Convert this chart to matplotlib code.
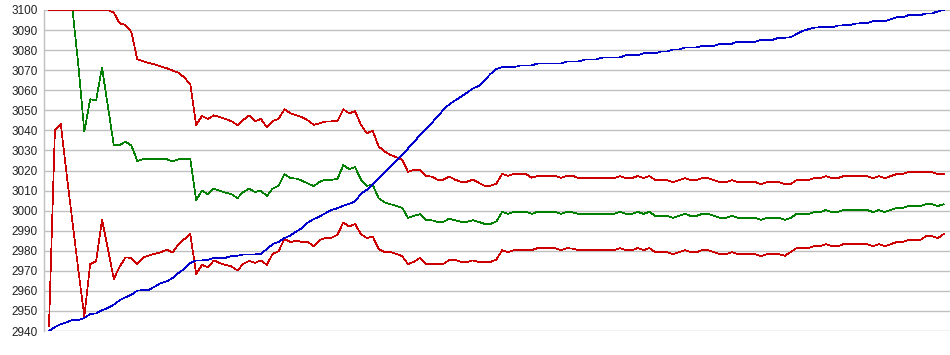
import numpy as np
import matplotlib
matplotlib.use("Agg")
import matplotlib.pyplot as plt

# values, one point every ~5.9 px
blue = [
    2940.0, 2942.0, 2943.4, 2944.4, 2945.5, 2945.5, 2946.5, 2948.5, 2948.8, 2950.3,
    2951.5, 2953.1, 2955.3, 2956.8, 2958.1, 2960.1, 2960.4, 2960.6, 2962.2, 2963.9,
    2964.7, 2966.4, 2968.9, 2971.0, 2973.9, 2975.2, 2975.2, 2975.4, 2976.4, 2976.4,
    2976.5, 2977.4, 2977.5, 2978.2, 2978.2, 2978.2, 2978.5, 2980.8, 2983.3, 2984.4,
    2986.3, 2987.6, 2989.6, 2991.3, 2994.1, 2995.8, 2997.1, 2998.8, 3000.3, 3001.2,
    3002.4, 3003.4, 3004.6, 3008.4, 3010.4, 3013.2, 3016.2, 3019.0, 3022.0, 3025.0,
    3027.8, 3031.0, 3034.0, 3037.8, 3040.6, 3043.6, 3046.9, 3050.2, 3053.0, 3054.9,
    3056.8, 3058.8, 3060.8, 3062.2, 3065.1, 3068.1, 3070.6, 3071.5, 3071.5, 3071.5,
    3072.3, 3072.4, 3072.4, 3073.3, 3073.4, 3073.4, 3073.4, 3073.4, 3074.3, 3074.4,
    3074.4, 3075.3, 3075.4, 3075.4, 3076.3, 3076.4, 3076.4, 3076.4, 3077.4, 3077.4,
    3077.4, 3078.4, 3078.4, 3078.4, 3079.3, 3079.3, 3080.3, 3080.3, 3081.3, 3081.3,
    3081.3, 3082.2, 3082.2, 3082.2, 3083.2, 3083.2, 3083.2, 3084.2, 3084.2, 3084.2,
    3084.2, 3085.2, 3085.2, 3085.2, 3086.2, 3086.2, 3086.4, 3088.0, 3089.5, 3090.4,
    3091.2, 3091.4, 3091.4, 3091.4, 3092.2, 3092.4, 3092.4, 3093.2, 3093.4, 3093.4,
    3094.4, 3094.4, 3094.4, 3095.4, 3096.4, 3096.4, 3097.4, 3097.4, 3097.4, 3098.3,
    3098.3, 3099.3, 3100.0,
]

green = [
    3100.0, 3100.0, 3100.0, 3100.0, 3100.0, 3072.0, 3039.4, 3055.5, 3054.9, 3071.3,
    3052.2, 3032.6, 3032.6, 3034.4, 3032.4, 3024.8, 3025.6, 3025.6, 3025.6, 3025.6,
    3025.6, 3024.6, 3025.6, 3025.6, 3025.6, 3005.4, 3009.9, 3008.2, 3011.0, 3009.9,
    3009.0, 3008.2, 3006.2, 3009.2, 3011.0, 3009.2, 3010.0, 3007.2, 3011.0, 3012.4,
    3018.2, 3016.2, 3016.0, 3014.9, 3013.5, 3012.2, 3014.4, 3015.4, 3015.4, 3015.8,
    3022.7, 3020.7, 3021.7, 3015.4, 3012.4, 3012.9, 3006.2, 3004.2, 3003.2, 3002.4,
    3001.4, 2996.4, 2997.4, 2998.2, 2995.4, 2995.2, 2994.4, 2994.4, 2996.0, 2995.2,
    2994.4, 2994.4, 2995.2, 2994.4, 2993.4, 2993.4, 2994.6, 2999.4, 2998.4, 2999.4,
    2999.4, 2999.4, 2998.4, 2999.4, 2999.4, 2999.4, 2999.4, 2998.4, 2999.4, 2999.1,
    2998.4, 2998.4, 2998.4, 2998.4, 2998.4, 2998.4, 2998.4, 2999.4, 2998.4, 2998.4,
    2999.4, 2998.4, 2999.4, 2997.4, 2997.4, 2997.4, 2996.4, 2997.4, 2998.4, 2997.4,
    2997.4, 2998.4, 2998.4, 2997.4, 2996.4, 2996.4, 2997.4, 2996.4, 2996.4, 2996.4,
    2996.4, 2995.4, 2996.4, 2996.4, 2996.4, 2995.4, 2996.4, 2998.3, 2998.3, 2998.3,
    2999.3, 2999.3, 3000.3, 2999.3, 2999.3, 3000.3, 3000.3, 3000.3, 3000.3, 3000.3,
    2999.3, 3000.3, 2999.3, 3000.4, 3001.3, 3001.3, 3002.3, 3002.3, 3002.3, 3003.2,
    3003.2, 3002.3, 3003.2,
]

red_upper = [
    3100.0, 3100.0, 3100.0, 3100.0, 3100.0, 3100.0, 3100.0, 3100.0, 3100.0, 3100.0,
    3100.0, 3098.7, 3093.4, 3092.5, 3089.0, 3075.4, 3074.4, 3073.6, 3072.8, 3071.8,
    3071.0, 3069.8, 3068.8, 3066.3, 3063.0, 3042.7, 3047.2, 3045.7, 3047.5, 3046.6,
    3045.6, 3044.6, 3042.6, 3045.2, 3047.4, 3044.6, 3045.7, 3041.6, 3044.7, 3045.7,
    3050.5, 3048.5, 3047.5, 3046.6, 3044.9, 3042.7, 3043.6, 3044.4, 3044.5, 3044.6,
    3050.5, 3048.5, 3049.5, 3042.7, 3038.6, 3039.8, 3032.0, 3029.5, 3027.8, 3026.6,
    3025.3, 3019.3, 3020.3, 3020.3, 3017.3, 3017.0, 3015.4, 3015.4, 3017.0, 3015.4,
    3014.4, 3014.4, 3015.4, 3013.9, 3012.4, 3012.4, 3013.4, 3018.3, 3017.3, 3018.3,
    3018.3, 3018.3, 3016.4, 3017.3, 3017.3, 3017.3, 3017.3, 3016.4, 3017.3, 3017.3,
    3016.2, 3016.2, 3016.2, 3016.2, 3016.2, 3016.2, 3016.2, 3017.2, 3016.2, 3016.2,
    3017.2, 3016.2, 3017.2, 3015.2, 3015.2, 3015.2, 3014.2, 3015.2, 3016.2, 3015.2,
    3015.2, 3016.2, 3016.2, 3015.2, 3014.2, 3014.2, 3015.2, 3014.2, 3014.2, 3014.2,
    3014.2, 3013.2, 3014.2, 3014.2, 3014.2, 3013.2, 3013.2, 3015.2, 3015.2, 3015.2,
    3016.2, 3016.2, 3017.2, 3016.2, 3016.2, 3017.2, 3017.2, 3017.2, 3017.2, 3017.2,
    3016.2, 3017.2, 3016.2, 3017.2, 3018.2, 3018.2, 3019.2, 3019.2, 3019.2, 3019.2,
    3019.2, 3018.2, 3018.2,
]

red_lower = [
    2942.3, 3040.0, 3043.2, 3018.0, 2994.0, 2970.0, 2947.3, 2973.4, 2974.7, 2995.5,
    2981.0, 2966.0, 2972.0, 2976.7, 2976.4, 2973.4, 2976.7, 2977.7, 2978.5, 2979.3,
    2980.5, 2979.2, 2983.3, 2985.8, 2988.3, 2968.5, 2973.0, 2971.7, 2975.2, 2973.9,
    2972.9, 2972.2, 2970.2, 2973.4, 2975.0, 2974.0, 2975.2, 2973.0, 2978.4, 2979.7,
    2986.0, 2984.3, 2985.1, 2984.3, 2984.3, 2982.2, 2985.5, 2986.3, 2986.5, 2988.0,
    2994.1, 2992.1, 2993.3, 2988.3, 2986.3, 2987.1, 2980.8, 2979.3, 2979.3, 2978.5,
    2977.3, 2973.4, 2974.5, 2976.4, 2973.4, 2973.4, 2973.4, 2973.4, 2975.4, 2975.4,
    2974.4, 2974.4, 2975.2, 2974.4, 2974.4, 2974.4, 2975.6, 2980.3, 2979.3, 2980.3,
    2980.3, 2980.3, 2980.3, 2981.3, 2981.3, 2981.3, 2981.3, 2980.3, 2981.3, 2981.0,
    2980.3, 2980.3, 2980.3, 2980.3, 2980.3, 2980.3, 2980.3, 2981.3, 2980.3, 2980.3,
    2981.3, 2980.3, 2981.3, 2979.3, 2979.3, 2979.3, 2978.3, 2979.3, 2980.3, 2979.3,
    2979.3, 2980.3, 2980.3, 2979.3, 2978.3, 2978.3, 2979.3, 2978.3, 2978.3, 2978.3,
    2978.3, 2977.3, 2978.3, 2978.3, 2978.3, 2977.5, 2979.3, 2981.3, 2981.3, 2981.3,
    2982.3, 2982.3, 2983.3, 2982.3, 2982.3, 2983.3, 2983.3, 2983.3, 2983.3, 2983.3,
    2982.3, 2983.3, 2982.3, 2983.3, 2984.3, 2984.3, 2985.3, 2985.3, 2985.3, 2987.3,
    2987.3, 2986.3, 2988.3,
]

y_ticks = list(range(2940, 3101, 10))

x = np.arange(len(blue))

fig = plt.figure(figsize=(9.5, 3.55), dpi=100)
ax = fig.add_axes([44 / 950, 24 / 355, 906 / 950, 321 / 355])

lw = 0.5
ax.plot(x, green, color="#008000", lw=lw, antialiased=False, zorder=3)
ax.plot(x, red_upper, color="#cc0000", lw=lw, antialiased=False, zorder=4)
ax.plot(x, red_lower, color="#cc0000", lw=lw, antialiased=False, zorder=4)
ax.plot(x, blue, color="#0000cc", lw=lw, antialiased=False, zorder=5)

# first point sits 5 px right of the axis, last one ~6 px before the edge
step = 5.886
ax.set_xlim(-5 / step, len(blue) - 1 + 6.3 / step)
ax.set_ylim(2940, 3100)
ax.set_yticks(y_ticks)
ax.set_xticks([])

ax.grid(axis="y", color="#c0c0c0", lw=1.0, zorder=0)
for side in ["top", "right", "bottom"]:
    ax.spines[side].set_visible(False)
ax.spines["left"].set_color("#c0c0c0")
ax.spines["left"].set_linewidth(1.0)
ax.tick_params(axis="y", length=0, pad=4.5, labelsize=8.5, labelcolor="#222222")
for lab in ax.get_yticklabels():
    lab.set_family("Liberation Sans")

fig.savefig("out.png", dpi=100, facecolor="white")
